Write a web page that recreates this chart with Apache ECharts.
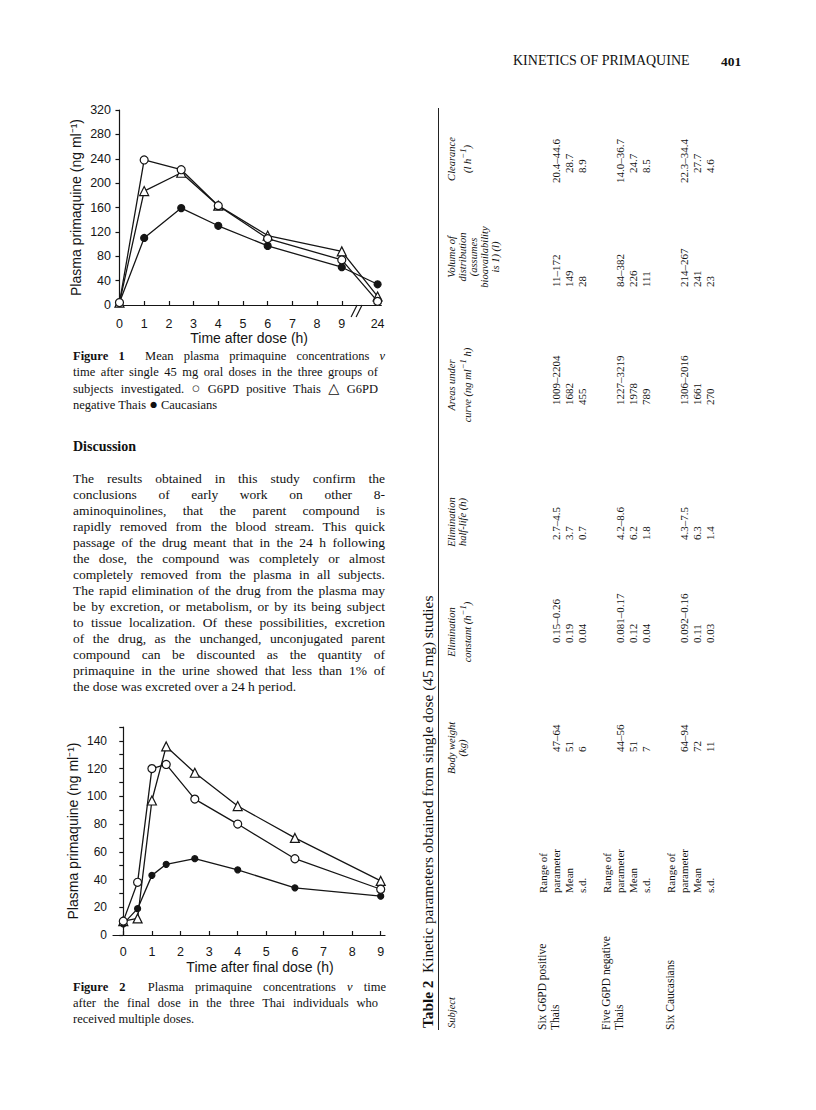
<!DOCTYPE html>
<html><head><meta charset="utf-8">
<script src="https://cdn.jsdelivr.net/npm/echarts@6.0.0/dist/echarts.min.js"></script>
<style>
html,body{margin:0;padding:0;background:#fff;}
#page{position:relative;width:816px;height:1110px;overflow:hidden;background:#fff;}
#chart{position:absolute;left:0;top:0;width:816px;height:1110px;}
.serif{font-family:"Liberation Serif","DejaVu Serif",serif;color:#111;}
.ln{position:absolute;white-space:nowrap;}
.sym{font-size:1.15em;line-height:1;}
#table{position:absolute;left:420px;top:1030px;width:930px;height:310px;transform-origin:0 0;transform:rotate(-90deg);}
#table span{position:absolute;white-space:nowrap;}
#table .rule{position:absolute;height:1px;background:#222;}
</style></head><body>
<div id="page"><div id="chart"></div><div id="text" class="serif"></div><div id="table" class="serif"></div></div>
<script>
// ---------------- Figure 1 data ----------------
const fig1HoursAfterDose = [0, 1, 2.5, 4, 6, 9, 24];
const fig1G6pdPositiveThais = [4, 238, 222, 163, 109, 74, 6];
const fig1G6pdNegativeThais = [4, 187, 217, 163, 114, 88, 14];
const fig1Caucasians = [4, 110, 159, 130, 97, 62, 34];
const fig1XTickLabels = [0, 1, 2, 3, 4, 5, 6, 7, 8, 9, 24];
const fig1YTickLabels = [0, 40, 80, 120, 160, 200, 240, 280, 320];

// ---------------- Figure 2 data ----------------
const fig2HoursAfterFinalDose = [0, 0.5, 1, 1.5, 2.5, 4, 6, 9];
const fig2OpenCircle = [10, 38, 120, 123, 98, 80, 55, 33];
const fig2OpenTriangle = [10, 12, 97, 136, 117, 93, 70, 39];
const fig2FilledCircle = [8, 19, 43, 51, 55, 47, 34, 28];
const fig2XTickLabels = [0, 1, 2, 3, 4, 5, 6, 7, 8, 9];
const fig2YTickLabels = [0, 20, 40, 60, 80, 100, 120, 140];
const fig2YMinorTicks = [0, 10, 20, 30, 40, 50, 60, 70, 80, 90, 100, 110, 120, 130, 140, 150];

// ---------------- Table 2 data ----------------
const tableSubjects = [['Six G6PD positive', 'Thais'], ['Five G6PD negative', 'Thais'], ['Six Caucasians']];
const tableRowLabels = [['Range of', 'parameter'], ['Mean'], ['s.d.']];
const tableHeaders = [
  ['Body weight', '(kg)'],
  ['Elimination', 'constant (h<sup>−1</sup>)'],
  ['Elimination', 'half-life (h)'],
  ['Areas under', 'curve (ng ml<sup>−1</sup> h)'],
  ['Volume of', 'distribution', '(assumes', 'bioavailability', 'is 1) (l)'],
  ['Clearance', '(l h<sup>−1</sup>)']
];
const bodyWeightKg = [['47–64', '51', '6'], ['44–56', '51', '7'], ['64–94', '72', '11']];
const eliminationConstant = [['0.15–0.26', '0.19', '0.04'], ['0.081–0.17', '0.12', '0.04'], ['0.092–0.16', '0.11', '0.03']];
const eliminationHalfLife = [['2.7–4.5', '3.7', '0.7'], ['4.2–8.6', '6.2', '1.8'], ['4.3–7.5', '6.3', '1.4']];
const areaUnderCurve = [['1009–2204', '1682', '455'], ['1227–3219', '1978', '789'], ['1306–2016', '1661', '270']];
const volumeOfDistribution = [['11–172', '149', '28'], ['84–382', '226', '111'], ['214–267', '241', '23']];
const clearance = [['20.4–44.6', '28.7', '8.9'], ['14.0–36.7', '24.7', '8.5'], ['22.3–34.4', '27.7', '4.6']];

// ---------------- page text ----------------
const discussionLines = [
  'The results obtained in this study confirm the',
  'conclusions of early work on other 8-',
  'aminoquinolines, that the parent compound is',
  'rapidly removed from the blood stream. This quick',
  'passage of the drug meant that in the 24 h following',
  'the dose, the compound was completely or almost',
  'completely removed from the plasma in all subjects.',
  'The rapid elimination of the drug from the plasma may',
  'be by excretion, or metabolism, or by its being subject',
  'to tissue localization. Of these possibilities, excretion',
  'of the drug, as the unchanged, unconjugated parent',
  'compound can be discounted as the quantity of',
  'primaquine in the urine showed that less than 1% of',
  'the dose was excreted over a 24 h period.'
];
const fig1Caption = [
  '<b>Figure 1</b>&nbsp; Mean plasma primaquine concentrations <i>v</i>',
  'time after single 45 mg oral doses in the three groups of',
  'subjects investigated. <span class="sym">○</span> G6PD positive Thais <span class="sym">△</span> G6PD',
  'negative Thais <span class="sym">●</span> Caucasians'
];
const fig2Caption = [
  '<b>Figure 2</b>&nbsp; Plasma primaquine concentrations <i>v</i> time',
  'after the final dose in the three Thai individuals who',
  'received multiple doses.'
];

// ---------------- chart ----------------
const INK = '#151515';
const SANS = '"Liberation Sans", Arial, Helvetica, sans-serif';
const brokenHour = h => (h > 9 ? 10.45 : h);   // 24 h drawn beyond the axis break

const chart = echarts.init(document.getElementById('chart'), null, {renderer: 'svg'});

function xAxisCfg(grid, min, max, ticks, offset, name, nameGap, namePad, fmt) {
  return {
    gridIndex: grid, type: 'value', min: min, max: max, offset: offset,
    axisLine: {lineStyle: {color: INK, width: 1.2}},
    axisTick: {inside: true, length: 4, customValues: ticks, lineStyle: {color: INK, width: 1.2}},
    axisLabel: {customValues: ticks, margin: 6, fontFamily: SANS, fontSize: 12.5, color: INK, formatter: fmt},
    splitLine: {show: false},
    name: name, nameLocation: 'middle', nameGap: nameGap,
    nameTextStyle: {fontFamily: SANS, fontSize: 14, color: INK, padding: namePad}
  };
}
function yAxisCfg(grid, max, labels, ticks, name, nameGap, fs) {
  return {
    gridIndex: grid, type: 'value', min: 0, max: max,
    axisLine: {show: true, lineStyle: {color: INK, width: 1.2}},
    axisTick: {show: true, length: 4, customValues: ticks, lineStyle: {color: INK, width: 1.2}},
    axisLabel: {customValues: labels, margin: 6, fontFamily: SANS, fontSize: fs, color: INK},
    splitLine: {show: false},
    name: name, nameLocation: 'middle', nameGap: nameGap,
    nameTextStyle: {fontFamily: SANS, fontSize: 14, color: INK}
  };
}
function lineSeries(xi, hours, vals, symbol, fill, size, mapX) {
  return {
    type: 'line', xAxisIndex: xi, yAxisIndex: xi,
    data: hours.map((h, i) => [mapX ? mapX(h) : h, vals[i]]),
    symbol: symbol, symbolSize: size, showAllSymbol: true,
    lineStyle: {color: INK, width: 1.3},
    itemStyle: {color: fill, borderColor: INK, borderWidth: 1.2},
    z: 3
  };
}

const yName = 'Plasma primaquine (ng ml⁻¹)';
chart.setOption({
  animation: false,
  grid: [
    {left: 117, top: 110, width: 264.3, height: 195},
    {left: 113, top: 727, width: 272, height: 208}
  ],
  xAxis: [
    xAxisCfg(0, -0.1, 10.6, fig1XTickLabels.map(brokenHour), 6, 'Time after dose (h)', 20, [0, 0, 0, 0],
      v => (v > 9.5 ? '24' : String(v))),
    xAxisCfg(1, -0.36, 9.15, fig2XTickLabels, 4.5, 'Time after final dose (h)', 20, [0, 0, 0, 22],
      v => String(v))
  ],
  yAxis: [
    yAxisCfg(0, 320, fig1YTickLabels, fig1YTickLabels, yName, 34, 12.5),
    yAxisCfg(1, 150, fig2YTickLabels, fig2YMinorTicks, yName, 33, 12)
  ],
  series: [
    lineSeries(0, fig1HoursAfterDose, fig1Caucasians, 'circle', INK, 7, brokenHour),
    lineSeries(0, fig1HoursAfterDose, fig1G6pdNegativeThais, 'triangle', '#fff', 9, brokenHour),
    lineSeries(0, fig1HoursAfterDose, fig1G6pdPositiveThais, 'circle', '#fff', 8, brokenHour),
    lineSeries(1, fig2HoursAfterFinalDose, fig2FilledCircle, 'circle', INK, 6, null),
    lineSeries(1, fig2HoursAfterFinalDose, fig2OpenTriangle, 'triangle', '#fff', 9, null),
    lineSeries(1, fig2HoursAfterFinalDose, fig2OpenCircle, 'circle', '#fff', 8, null)
  ]
});

// axis break marks "//" on figure 1 x axis
(function () {
  const p = chart.convertToPixel({gridIndex: 0}, [9.6, 0]);
  const y = p[1] + 6;
  const els = [];
  [-2.5, 2.5].forEach(dx => {
    els.push({type: 'rect', shape: {x: p[0] + dx - 2, y: y - 2, width: 4, height: 4}, style: {fill: '#fff'}, z: 50});
  });
  [-2.5, 2.5].forEach(dx => {
    els.push({type: 'line', shape: {x1: p[0] + dx - 3, y1: y + 6, x2: p[0] + dx + 3, y2: y - 6},
      style: {stroke: INK, lineWidth: 1.2}, z: 51});
  });
  chart.setOption({graphic: els});
})();

// ---------------- HTML text ----------------
const textBox = document.getElementById('text');
function addLine(html, left, yc, size, width, justify, extra) {
  const d = document.createElement('div');
  d.className = 'ln';
  d.style.left = left + 'px';
  d.style.top = (yc - size * 0.62) + 'px';
  d.style.fontSize = size + 'px';
  d.style.lineHeight = (size * 1.2) + 'px';
  if (extra) Object.assign(d.style, extra);
  d.innerHTML = html;
  textBox.appendChild(d);
  if (justify) {
    const w = d.getBoundingClientRect().width;
    const n = (d.textContent.match(/ /g) || []).length;
    if (w < width && n) d.style.wordSpacing = ((width - w) / n) + 'px';
    else if (w > width) d.style.letterSpacing = ((width - w) / d.textContent.length) + 'px';
  }
  return d;
}
addLine('KINETICS OF PRIMAQUINE', 513, 62, 14, 0, false);
addLine('<b>401</b>', 721, 62, 13.5, 0, false);
fig1Caption.forEach((t, i) => addLine(t, 73, 357 + 16 * i, 12.5, 305, i < fig1Caption.length - 1));
addLine('<b>Discussion</b>', 73, 448, 14, 0, false);
discussionLines.forEach((t, i) => addLine(t, 73, 479 + 16 * i, 13.5, 312, i < discussionLines.length - 1));
fig2Caption.forEach((t, i) => addLine(t, 73, 988 + 16 * i, 12.5, 305, i < fig2Caption.length - 1));

// ---------------- rotated table ----------------
const tb = document.getElementById('table');
function tspan(html, u, v, size, opts) {
  const s = document.createElement('span');
  s.innerHTML = html;
  s.style.fontSize = size + 'px';
  s.style.lineHeight = size + 'px';
  s.style.top = (v - size / 2) + 'px';
  s.style.left = u + 'px';
  if (opts && opts.center) s.style.transform = 'translateX(-50%)';
  if (opts && opts.italic) s.style.fontStyle = 'italic';
  tb.appendChild(s);
  return s;
}
tspan('<b>Table 2</b>&nbsp; Kinetic parameters obtained from single dose (45 mg) studies', 2, 8, 15.3);
const rule = document.createElement('div');
rule.className = 'rule';
rule.style.left = '0px'; rule.style.top = '18px'; rule.style.width = '922px';
tb.appendChild(rule);

const headV = i => 32 + 11 * i;
tspan('Subject', 2, headV(0), 10.5, {italic: true});
const colLayout = [ // header centre, range start, mean/s.d. start (u)
  {hc: 282, rs: 278, ms: 278},
  {hc: 398, rs: 387, ms: 387},
  {hc: 508, rs: 490, ms: 490},
  {hc: 645, rs: 625, ms: 625},
  {hc: 773, rs: 743, ms: 743},
  {hc: 871, rs: 847, ms: 857}
];
const columnValues = [bodyWeightKg, eliminationConstant, eliminationHalfLife, areaUnderCurve, volumeOfDistribution, clearance];
tableHeaders.forEach((lines, c) => lines.forEach((t, i) => tspan(t, colLayout[c].hc, headV(i), 10.5, {center: true, italic: true})));

const groupV = g => 123 + 64 * g;
tableSubjects.forEach((lines, g) => lines.forEach((t, i) => tspan(t, 0, groupV(g) + 13 * i, 11.5)));
tableSubjects.forEach((_, g) => {
  let k = 0;
  tableRowLabels.forEach(lines => lines.forEach(t => { tspan(t, 137, groupV(g) + 13 * k, 11); k++; }));
  columnValues.forEach((vals, c) => {
    tspan(vals[g][0], colLayout[c].rs, groupV(g) + 13, 11);
    tspan(vals[g][1], colLayout[c].ms, groupV(g) + 26, 11);
    tspan(vals[g][2], colLayout[c].ms, groupV(g) + 39, 11);
  });
});
</script>
</body></html>
